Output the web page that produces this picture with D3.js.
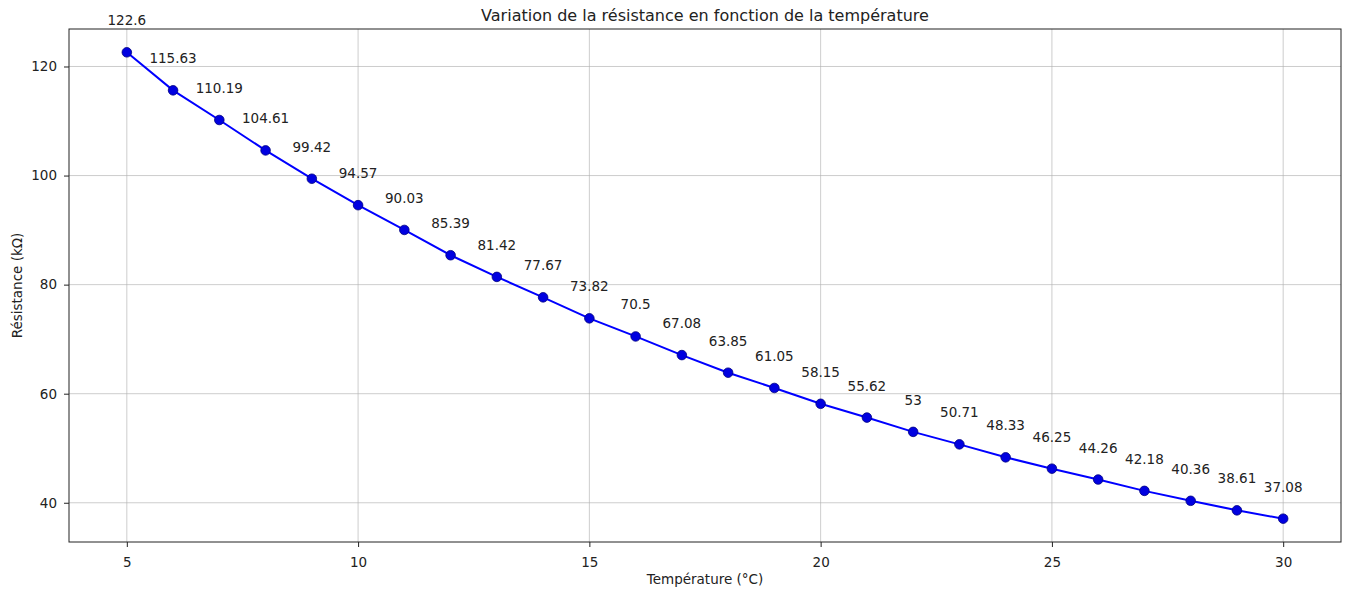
<!DOCTYPE html>
<html>
<head>
<meta charset="utf-8">
<script src="https://cdn.jsdelivr.net/npm/d3@7"></script>
<style>
  body { margin: 0; background: #fff; }
  svg { display: block; font-family: "DejaVu Sans", sans-serif; }
  .grid line { stroke: #b0b0b0; stroke-width: 0.8; stroke-opacity: 0.8; }
</style>
</head>
<body>
<div id="chart"></div>
<script>
// températures (°C)
const temperatures = d3.range(5, 31);
// résistances mesurées (kΩ)
const resistances = [122.6, 115.63, 110.19, 104.61, 99.42, 94.57, 90.03, 85.39, 81.42, 77.67,
  73.82, 70.5, 67.08, 63.85, 61.05, 58.15, 55.62, 53, 50.71, 48.33,
  46.25, 44.26, 42.18, 40.36, 38.61, 37.08];
const xTicks = [5, 10, 15, 20, 25, 30];
const yTicks = [40, 60, 80, 100, 120];

const width = 1348, height = 589;
const margin = { top: 29, right: 7, bottom: 47, left: 69 };

const data = temperatures.map((t, i) => ({ t: t, r: resistances[i] }));

const svg = d3.select("#chart").append("svg")
    .attr("width", width)
    .attr("height", height);

// marges de 5% comme matplotlib
const xPad = (d3.max(temperatures) - d3.min(temperatures)) * 0.05;
const yPad = (d3.max(resistances) - d3.min(resistances)) * 0.05;

const x = d3.scaleLinear()
    .domain([d3.min(temperatures) - xPad, d3.max(temperatures) + xPad])
    .range([margin.left, width - margin.right]);
const y = d3.scaleLinear()
    .domain([d3.min(resistances) - yPad, d3.max(resistances) + yPad])
    .range([height - margin.bottom, margin.top]);

// grille
const grid = svg.append("g").attr("class", "grid");
grid.selectAll(".gx").data(xTicks).enter().append("line")
    .attr("x1", d => x(d)).attr("x2", d => x(d))
    .attr("y1", margin.top).attr("y2", height - margin.bottom);
grid.selectAll(".gy").data(yTicks).enter().append("line")
    .attr("x1", margin.left).attr("x2", width - margin.right)
    .attr("y1", d => y(d)).attr("y2", d => y(d));

// axes
const xAxis = svg.append("g")
    .attr("transform", `translate(0,${height - margin.bottom})`)
    .call(d3.axisBottom(x).tickValues(xTicks).tickSize(5).tickPadding(10).tickSizeOuter(0));
const yAxis = svg.append("g")
    .attr("transform", `translate(${margin.left},0)`)
    .call(d3.axisLeft(y).tickValues(yTicks).tickSize(5).tickPadding(7).tickSizeOuter(0));
[xAxis, yAxis].forEach(a => {
    a.select(".domain").remove();
    a.attr("font-family", "DejaVu Sans, sans-serif");
    a.selectAll("text").attr("font-size", 13.5).attr("fill", "#222");
    a.selectAll("line").attr("stroke", "#222");
});

// cadre
svg.append("rect")
    .attr("x", margin.left).attr("y", margin.top)
    .attr("width", width - margin.left - margin.right)
    .attr("height", height - margin.top - margin.bottom)
    .attr("fill", "none").attr("stroke", "#222").attr("stroke-width", 1);

// courbe
const line = d3.line().x(d => x(d.t)).y(d => y(d.r));
svg.append("path")
    .datum(data)
    .attr("d", line)
    .attr("fill", "none")
    .attr("stroke", "#0000ff")
    .attr("stroke-width", 2);

svg.append("g").selectAll("circle")
    .data(data).enter().append("circle")
    .attr("cx", d => x(d.t))
    .attr("cy", d => y(d.r))
    .attr("r", 4.8)
    .attr("fill", "#0000e0")
    .attr("stroke", "#000080")
    .attr("stroke-width", 0.8);

// annotations
svg.append("g").selectAll("text")
    .data(data).enter().append("text")
    .attr("x", d => x(d.t))
    .attr("y", d => y(d.r) - 27)
    .attr("text-anchor", "middle")
    .attr("font-size", 13.5)
    .attr("fill", "#222")
    .text(d => d.r);

// titres
svg.append("text")
    .attr("x", (margin.left + width - margin.right) / 2)
    .attr("y", 21)
    .attr("text-anchor", "middle")
    .attr("font-size", 16)
    .attr("fill", "#222")
    .text("Variation de la résistance en fonction de la température");

svg.append("text")
    .attr("x", (margin.left + width - margin.right) / 2)
    .attr("y", 584)
    .attr("text-anchor", "middle")
    .attr("font-size", 13.5)
    .attr("fill", "#222")
    .text("Température (°C)");

svg.append("text")
    .attr("transform", `translate(22,${(margin.top + height - margin.bottom) / 2}) rotate(-90)`)
    .attr("text-anchor", "middle")
    .attr("font-size", 13.5)
    .attr("fill", "#222")
    .text("Résistance (kΩ)");
</script>
</body>
</html>
